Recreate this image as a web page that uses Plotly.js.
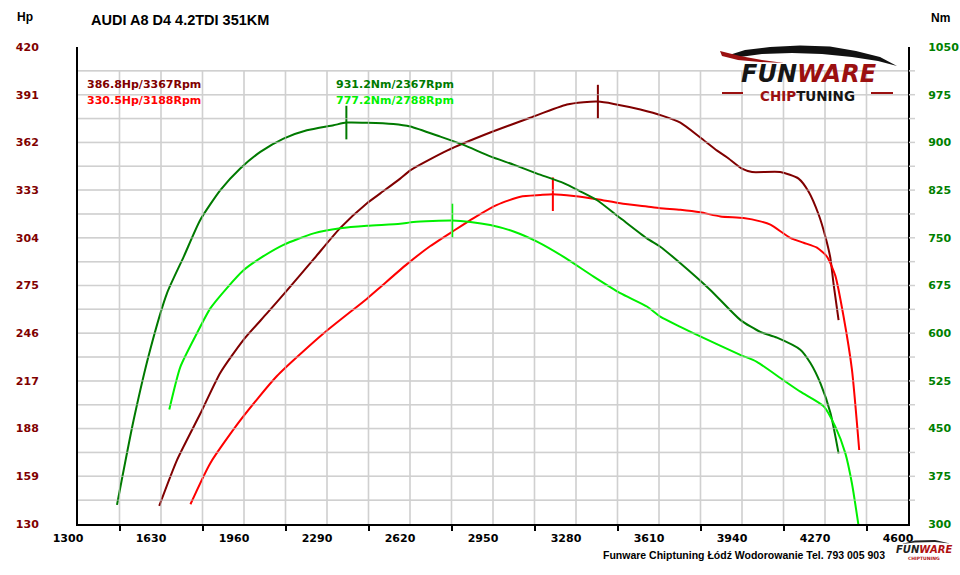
<!DOCTYPE html>
<html><head><meta charset="utf-8">
<script src="https://cdn.plot.ly/plotly-3.0.1.min.js"></script>
<style>html,body{margin:0;padding:0;background:#fff}#chart{width:960px;height:575px}</style>
</head><body><div id="chart"></div>
<script>
// ---- data ----
const tunedHpRpm = [1623,1694,1786,1866,1958,2051,2131,2237,2343,2449,2502,2581,2621,2767,2939,3098,3244,3310,3367,3430,3536,3628,3695,3774,3841,3880,3940,3980,4092,4165,4205,4245,4271,4291,4304,4324];
const tunedHp    = [141,169,197,222,242,258,272,291,310,325,331,340,345,357,368,377,385,386.4,386.8,385.4,382,378,374,365,357,353,346,344,344,340,332,318,305,292,276,254];

const stockHpRpm = [1747,1826,1945,2091,2277,2449,2502,2608,2701,2791,2873,2966,3059,3138,3188,3271,3364,3456,3562,3615,3695,3774,3854,3946,4013,4053,4132,4185,4238,4278,4311,4344,4377,4406];
const stockHp    = [142,167,193,220,246,267,274,288,299,308,316,324,329,330,330.5,329.4,327.4,325,323,322,321,319.5,317,316,314,312,304,301,298,292.5,281,256,224,175];

const tunedNmRpm = [1455,1521,1587,1654,1720,1786,1866,1945,2025,2117,2210,2316,2367,2449,2554,2621,2741,2833,2939,3032,3125,3231,3297,3364,3456,3562,3615,3695,3814,3933,4013,4079,4172,4212,4252,4292,4324];
const tunedNm    = [330,463,574,663,720,778,825,859,885,906,919,927,931.2,931,929,925,909,896,878,865,851,836,823,809,781,749,736,710,668,621,602,593,574,553,521,474,411];

const stockNmRpm = [1663,1707,1773,1826,1892,1958,2025,2117,2237,2343,2449,2581,2634,2788,2860,2939,3032,3125,3231,3350,3456,3562,3615,3695,3774,3933,3999,4105,4172,4265,4311,4351,4377,4404];
const stockNm    = [480,547,600,639,671,699,718,739,757,765,769,772,775,777.2,775,770,760,744,720,689,663,642,626,610,595,566,555,526,508,485,453,411,364,296];

const peakHpRpm = [3367, 3188];
const peakHp    = [386.8, 330.5];
const peakNmRpm = [2367, 2788];
const peakNm    = [931.2, 777.2];

const rpmTicks = [1300,1630,1960,2290,2620,2950,3280,3610,3940,4270,4600];
const rpmMinor = [1465,1795,2125,2455,2785,3115,3445,3775,4105,4435];
const hpTicks  = [130,159,188,217,246,275,304,333,362,391,420];
const nmTicks  = [300,375,450,525,600,675,750,825,900,975,1050];
const hpGrid   = [144.5,159,173.5,188,202.5,217,231.5,246,260.5,275,289.5,304,318.5,333,347.5,362,376.5,391,405.5];
const rpmGrid  = [1465,1630,1795,1960,2125,2290,2455,2620,2785,2950,3115,3280,3445,3610,3775,3940,4105,4270,4435];

const chartTitle = 'AUDI A8 D4 4.2TDI 351KM';
const footerText = 'Funware Chiptuning Łódź Wodorowanie Tel. 793 005 903';

// ---- styling ----
const C_TH = '#800000', C_SH = '#FF0000', C_TN = '#007A00', C_SN = '#00F000';
const GRID_C = 'rgb(208,208,208)';
const FONT = 'DejaVu Sans, Verdana, sans-serif';
const LIB = 'Liberation Sans, Arial, sans-serif';
const L = 78, R = 52, T = 47, B = 51, W = 960, H = 575;
const PW = W - L - R, PH = H - T - B;
const px = x => (x - L) / PW;
const py = y => (H - B - y) / PH;
const pathOf = pts => 'M' + pts.map(p => px(p[0]).toFixed(5) + ',' + py(p[1]).toFixed(5)).join(' L') + ' Z';

const hpRange = [hpTicks[0], hpTicks[hpTicks.length - 1]];
const xRange = [rpmTicks[0], rpmTicks[rpmTicks.length - 1]];
const gridTop = hpGrid[hpGrid.length - 1];

// grid segments as line traces on the Hp axis (drawn first = underneath the curves)
const gridTraces = [];
rpmGrid.forEach(v => gridTraces.push({x:[v, v], y:[hpRange[0], gridTop], type:'scatter', mode:'lines',
  line:{color:GRID_C, width:1.5}, hoverinfo:'skip', showlegend:false}));
hpGrid.forEach(v => gridTraces.push({x:xRange, y:[v, v], type:'scatter', mode:'lines',
  line:{color:GRID_C, width:1.5}, hoverinfo:'skip', showlegend:false}));

const line = (x, y, c, axis) => ({x, y, type:'scatter', mode:'lines', yaxis: axis,
  line:{color:c, width:2, shape:'spline', smoothing:0.6}, hoverinfo:'skip', showlegend:false});
const peak = (x, y, c, axis) => ({x:[x], y:[y], type:'scatter', mode:'markers', yaxis: axis,
  marker:{symbol:'line-ns', size:24, line:{color:c, width:2}}, hoverinfo:'skip', showlegend:false});

const data = gridTraces.concat([
  line(tunedHpRpm, tunedHp, C_TH, 'y'),
  line(stockHpRpm, stockHp, C_SH, 'y'),
  peak(peakHpRpm[0], peakHp[0], C_TH, 'y'),
  peak(peakHpRpm[1], peakHp[1], C_SH, 'y'),
  line(tunedNmRpm, tunedNm, C_TN, 'y2'),
  line(stockNmRpm, stockNm, C_SN, 'y2'),
  peak(peakNmRpm[0], peakNm[0], C_TN, 'y2'),
  peak(peakNmRpm[1], peakNm[1], C_SN, 'y2'),
]);

const shapes = [];
// grid also as thin translucent shapes (fallback so the grid is visible)
rpmGrid.forEach(v => shapes.push({type:'line', xref:'x', yref:'y', x0:v, x1:v, y0:hpRange[0], y1:gridTop,
  line:{color:GRID_C, width:1.2}, opacity:0.55, layer:'above'}));
hpGrid.forEach(v => shapes.push({type:'line', xref:'x', yref:'y', x0:xRange[0], x1:xRange[1], y0:v, y1:v,
  line:{color:GRID_C, width:1.2}, opacity:0.55, layer:'above'}));
hpGrid.forEach(v => shapes.push({type:'line', xref:'paper', yref:'y', x0:1 + 1/PW, x1:1 + 7/PW, y0:v, y1:v,
  line:{color:GRID_C, width:1.5}}));
// logo decorations
shapes.push({type:'path', xref:'paper', yref:'paper', line:{width:0}, fillcolor:'#111',
  path: pathOf([[726,56],[745,50],[770,47],[800,45.5],[830,46.5],[856,51],[880,57],[897,66],[878,61],[852,57],[822,54],[792,53],[762,54],[740,57]])});
shapes.push({type:'path', xref:'paper', yref:'paper', line:{width:0}, fillcolor:'#9B1010',
  path: pathOf([[720,51],[740,56],[762,60],[784,63],[760,62],[738,60],[722,56]])});
shapes.push({type:'line', xref:'paper', yref:'paper', x0:px(722), x1:px(743), y0:py(93), y1:py(93), line:{color:'#9B1010', width:2}});
shapes.push({type:'line', xref:'paper', yref:'paper', x0:px(871), x1:px(893), y0:py(93), y1:py(93), line:{color:'#9B1010', width:2}});
shapes.push({type:'path', xref:'paper', yref:'paper', line:{width:0}, fillcolor:'#222',
  path: pathOf([[902,544],[915,540.5],[935,540],[950,543.5],[935,542],[915,542.5]])});

const ann = (x, y, text, color, size, anchor, family) => ({xref:'paper', yref:'paper', x:px(x), y:py(y),
  text, showarrow:false, xanchor:anchor || 'left', yanchor:'middle',
  font:{family:family || FONT, size:size || 11, color, weight:'bold'}});

const annotations = [
  ann(85, 85, peakHp[0].toFixed(1) + 'Hp/' + peakHpRpm[0] + 'Rpm', C_TH),
  ann(85, 101, peakHp[1].toFixed(1) + 'Hp/' + peakHpRpm[1] + 'Rpm', C_SH),
  ann(334, 85, peakNm[0].toFixed(1) + 'Nm/' + peakNmRpm[0] + 'Rpm', C_TN),
  ann(334, 101, peakNm[1].toFixed(1) + 'Nm/' + peakNmRpm[1] + 'Rpm', C_SN),
  ann(15, 17.5, 'Hp', '#000', 12, 'left', LIB),
  ann(929, 18, 'Nm', '#000', 12, 'left', LIB),
  ann(809, 74.5, '<i>FUN<span style="color:#9B1010">WARE</span></i>', '#151515', 24, 'center'),
  ann(807, 96.5, '<span style="color:#9B1010">CHIP</span>TUNING', '#151515', 13.5, 'center'),
  ann(887, 555, footerText, '#000', 10.5, 'right', LIB),
  ann(924, 549.5, '<i>FUN<span style="color:#B01010">WARE</span></i>', '#222', 10, 'center'),
  ann(924, 558, 'CHIPTUNING', '#B01010', 4.5, 'center'),
];

const layout = {
  width:W, height:H, margin:{l:L, r:R, t:T, b:B, pad:0},
  paper_bgcolor:'white', plot_bgcolor:'white', showlegend:false,
  title:{text:chartTitle, x:91/W, xanchor:'left', y:1 - 19.5/H, yanchor:'middle',
    font:{family:LIB, size:14.5, color:'#000', weight:'bold'}},
  xaxis:{range:xRange, tickvals:rpmTicks, ticktext:rpmTicks.map(String), ticks:'', zeroline:false, showgrid:false,
    showline:true, linecolor:'#000', linewidth:2, ticklabelshift:-10, ticklabelstandoff:3,
    tickfont:{family:FONT, size:11, color:'#000', weight:'bold'},
    minor:{tickvals:rpmMinor, ticks:'outside', ticklen:5, tickcolor:'#000', tickwidth:1.5, showgrid:false}},
  yaxis:{range:hpRange, tickvals:hpTicks, ticktext:hpTicks.map(String), ticks:'', showgrid:false, zeroline:false,
    showline:true, linecolor:'#000', linewidth:2, ticklabelstandoff:35,
    tickfont:{family:FONT, size:11, color:C_TH, weight:'bold'}},
  yaxis2:{range:[nmTicks[0], nmTicks[nmTicks.length-1]], overlaying:'y', side:'right', tickvals:nmTicks, ticktext:nmTicks.map(String), ticks:'',
    showgrid:false, zeroline:false, showline:true, linecolor:'#000', linewidth:2, ticklabelstandoff:16,
    tickfont:{family:FONT, size:11, color:'#008000', weight:'bold'}},
  shapes, annotations
};

Plotly.newPlot('chart', data, layout, {displayModeBar:false});
</script>
</body></html>
